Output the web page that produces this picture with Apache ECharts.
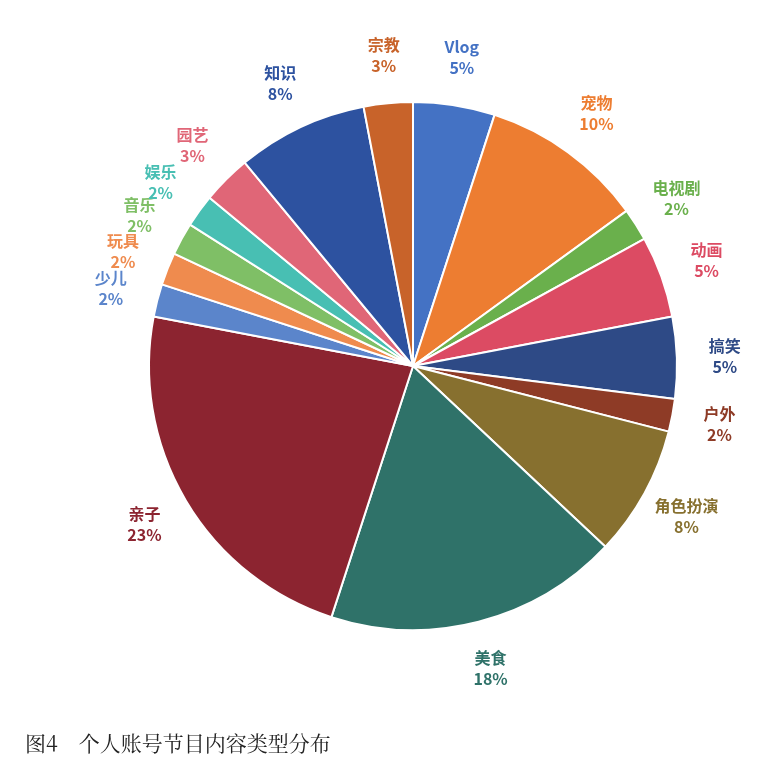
<!DOCTYPE html>
<html>
<meta charset="utf-8" />
<head>
  <script src="https://cdn.jsdelivr.net/npm/echarts@6.0.0/dist/echarts.min.js"></script>
  <style>
    html, body { margin: 0; background: #fff; }
    .chart { width: 776px; height: 782px; }
  </style>
</head>
<body>
  <div class="chart" id="pie"></div>
  <script>
    // clockwise from 12 o'clock
    const names = ["Vlog", "宠物", "电视剧", "动画", "搞笑", "户外", "角色扮演", "美食",
      "亲子", "少儿", "玩具", "音乐", "娱乐", "园艺", "知识", "宗教"];
    const shares = [5, 10, 2, 5, 5, 2, 8, 18, 23, 2, 2, 2, 2, 3, 8, 3];
    const colors = ["#4472c4", "#ed7d31", "#6ab04c", "#dc4b63", "#2e4a86", "#8e3b26",
      "#87702f", "#2f7269", "#8c2430", "#5b85cb", "#ef8b4e", "#7fbf66", "#48bfb3",
      "#e06677", "#2d52a0", "#c8632a"];

    const myChart = echarts.init(document.getElementById("pie"));
    const slices = names.map((n, i) => ({ name: n, value: shares[i], itemStyle: { color: colors[i] } }));
    // transparent ring that only carries the labels, centred just outside the pie
    const labelRing = names.map((n, i) => ({
      name: n, value: shares[i],
      itemStyle: { color: "rgba(0,0,0,0)" },
      label: { color: colors[i] }
    }));

    myChart.setOption({
      animation: false,
      textStyle: { fontFamily: "Noto Sans CJK SC" },
      title: {
        text: "图4　个人账号节目内容类型分布",
        left: 20,
        top: 728,
        textStyle: { fontFamily: "Noto Serif CJK SC, Noto Sans CJK SC", fontWeight: "normal", fontSize: 21, color: "#222" }
      },
      series: [{
        type: "pie",
        center: [413, 366],
        radius: 264,
        startAngle: 90,
        clockwise: true,
        data: slices,
        itemStyle: { borderColor: "#fff", borderWidth: 2 },
        label: { show: false },
        labelLine: { show: false }
      }, {
        type: "pie",
        silent: true,
        center: [413, 366],
        radius: [272, 346],
        startAngle: 90,
        clockwise: true,
        data: labelRing,
        label: {
          position: "inside",
          formatter: (p) => p.name + "\n" + p.value + "%",
          fontSize: 16,
          fontWeight: "bold",
          lineHeight: 21,
          align: "center"
        },
        labelLine: { show: false },
        labelLayout: { hideOverlap: false }
      }]
    });
  </script>
</body>
</html>
